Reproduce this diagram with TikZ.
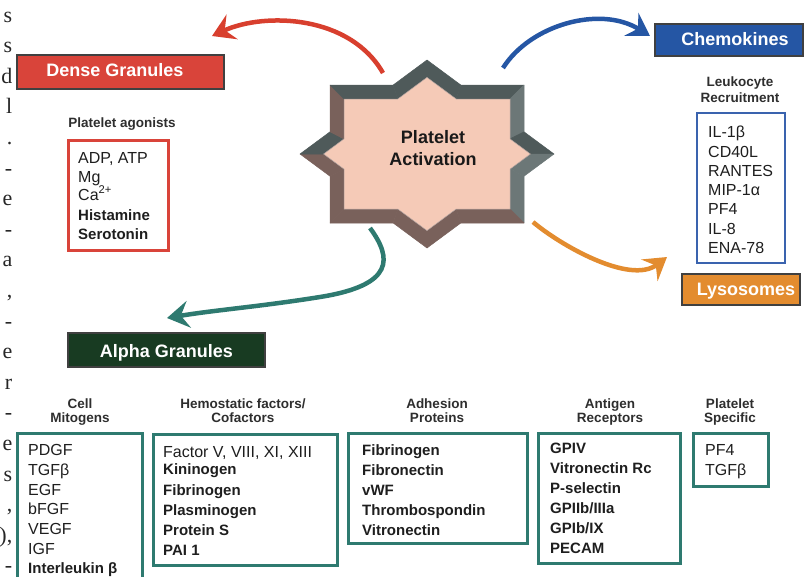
\documentclass[tikz,border=0pt]{standalone}
\usepackage{fontspec}
\setmainfont{Liberation Sans}
\newfontfamily\edgefont{Liberation Serif}
\usetikzlibrary{arrows.meta}
\definecolor{cRed}{HTML}{D83F2E}
\definecolor{cRedBox}{HTML}{D9443A}
\definecolor{cBlue}{HTML}{2556A4}
\definecolor{cListBlue}{HTML}{3A63AE}
\definecolor{cOrange}{HTML}{E38C2F}
\definecolor{cTeal}{HTML}{2E7A70}
\definecolor{cGreen}{HTML}{183B22}
\definecolor{cPink}{HTML}{F5CAB7}
\definecolor{cDark}{HTML}{4F5A5A}
\definecolor{cGray}{HTML}{6C7777}
\definecolor{cBrown}{HTML}{79615B}
\definecolor{cTxt}{HTML}{1E1E1E}
\definecolor{cHead}{HTML}{2E2E2E}
\begin{document}
\begin{tikzpicture}[x=1pt,y=-1pt,
  titlebox/.style={draw=black!75, line width=1.6pt, inner sep=0pt},
  titletext/.style={text=white, font=\fontsize{18}{20}\selectfont\bfseries, inner sep=0pt, anchor=base},
  headtxt/.style={text=cHead, font=\fontsize{13.5}{15}\selectfont\bfseries, inner sep=0pt, anchor=base},
  item/.style={text=cTxt, font=\fontsize{16}{19}\selectfont, inner sep=0pt, anchor=base west},
  bitem/.style={item, font=\fontsize{15}{19}\selectfont\bfseries},
  listbox/.style={line width=3pt, inner sep=0pt},
  arr/.style={line width=4.5pt, -{Stealth[length=22pt,width=27pt,inset=8pt]}},
  edgetxt/.style={font=\edgefont\fontsize{22}{24}\selectfont, anchor=base east, inner sep=0pt, text=black!85},
]
\useasboundingbox (0,0) rectangle (806,576);

% left-edge text fragments
\foreach \t [count=\i] in {s,s,d,l,.,-,e,-,a,{,},-,e,r,-,e,s,{,},{),},-}
  \node[edgetxt] (lf\i) at (12.5,{22+30.6*(\i-1)}) {\t};

% ---------- star ----------
\coordinate (O1) at (427,60);
\coordinate (O2) at (460.8,85);
\coordinate (O3) at (524,85);
\coordinate (O4) at (524,131.8);
\coordinate (O5) at (554,154);
\coordinate (O6) at (524,176.2);
\coordinate (O7) at (524,223);
\coordinate (O8) at (460.8,223);
\coordinate (O9) at (427,248);
\coordinate (O10) at (393.2,223);
\coordinate (O11) at (330,223);
\coordinate (O12) at (330,176.2);
\coordinate (O13) at (300,154);
\coordinate (O14) at (330,131.8);
\coordinate (O15) at (330,85);
\coordinate (O16) at (393.2,85);
\coordinate (I1) at (427,77.4);
\coordinate (I2) at (456.2,99);
\coordinate (I3) at (510,99);
\coordinate (I4) at (510,138.9);
\coordinate (I5) at (530.4,154);
\coordinate (I6) at (510,169.1);
\coordinate (I7) at (510,209);
\coordinate (I8) at (456.2,209);
\coordinate (I9) at (427,230.6);
\coordinate (I10) at (397.8,209);
\coordinate (I11) at (344,209);
\coordinate (I12) at (344,169.1);
\coordinate (I13) at (323.6,154);
\coordinate (I14) at (344,138.9);
\coordinate (I15) at (344,99);
\coordinate (I16) at (397.8,99);
\foreach \i/\j/\c in {1/2/cDark,2/3/cDark,3/4/cGray,4/5/cDark,5/6/cGray,6/7/cGray,7/8/cBrown,8/9/cBrown,9/10/cBrown,10/11/cBrown,11/12/cBrown,12/13/cBrown,13/14/cDark,14/15/cBrown,15/16/cDark,16/1/cDark}
  \fill[\c, draw=\c, line width=0.5pt, line join=round] (O\i) -- (O\j) -- (I\j) -- (I\i) -- cycle;
\fill[cPink, draw=cBrown!60, line width=0.5pt] (I1) -- (I2) -- (I3) -- (I4) -- (I5) -- (I6) -- (I7) -- (I8) -- (I9) -- (I10) -- (I11) -- (I12) -- (I13) -- (I14) -- (I15) -- (I16) -- cycle;
\node[titletext, text=black!90] (act1) at (433,143.5) {Platelet};
\node[titletext, text=black!90] (act2) at (433,165.5) {Activation};

% ---------- arrows ----------
\coordinate (rS) at (383,73);  \coordinate (rE) at (212,36);
\coordinate (bS) at (503,68);  \coordinate (bE) at (650,36);
\coordinate (oS) at (533,222); \coordinate (oE) at (667,257);
\coordinate (tS) at (370,228); \coordinate (tM) at (320,297); \coordinate (tE) at (167,318);
\draw[arr, cRed] (rS) .. controls (350,15) and (265,12) .. (rE);
\draw[arr, cBlue] (bS) .. controls (530,25) and (600,5) .. (bE);
\draw[arr, cOrange] (oS) .. controls (560,245) and (630,285) .. (oE);
\draw[arr, cTeal] (tS) .. controls (392,258) and (395,285) .. (tM) .. controls (260,306.6) and (215,310) .. (tE);

% ---------- title boxes ----------
\node[titlebox, fill=cRedBox, minimum width=207pt, minimum height=34pt] (dense) at (120.5,72) {};
\node[titletext] (denseT) at (115,76.5) {Dense Granules};
\node[titlebox, fill=cBlue, minimum width=148pt, minimum height=32pt] (chem) at (729,40) {};
\node[titletext] (chemT) at (735,45) {Chemokines};
\node[titlebox, fill=cOrange, minimum width=118pt, minimum height=31pt] (lyso) at (741,289.5) {};
\node[titletext] (lysoT) at (746,295) {Lysosomes};
\node[titlebox, fill=cGreen, minimum width=197pt, minimum height=34pt] (alpha) at (166.5,350) {};
\node[titletext] (alphaT) at (166.5,357) {Alpha Granules};

% ---------- dense granules list ----------
\node[headtxt] (agH) at (122,127) {Platelet agonists};
\node[listbox, draw=cRedBox, minimum width=100pt, minimum height=110pt] (agBox) at (118,195) {};
\node[item] (ag1) at (78,163) {ADP, ATP};
\node[item] (ag2) at (78,182) {Mg};
\node[item] (ag3) at (78,200) {Ca\textsuperscript{2+}};
\node[bitem] (ag4) at (78,220) {Histamine};
\node[bitem] (ag5) at (78,239) {Serotonin};

% ---------- chemokines list ----------
\node[headtxt] (lkH1) at (740,86) {Leukocyte};
\node[headtxt] (lkH2) at (740,102) {Recruitment};
\node[listbox, line width=2.5pt, draw=cListBlue, minimum width=88pt, minimum height=150pt] (lkBox) at (741,188) {};
\foreach \t [count=\i] in {IL-1β,CD40L,RANTES,MIP-1α,PF4,IL-8,ENA-78}
  \node[item] (lk\i) at (708,{137.7+19.3*(\i-1)}) {\t};

% ---------- alpha granules ----------
\node[headtxt] (cmH1) at (80,408) {Cell};
\node[headtxt] (cmH2) at (80,422) {Mitogens};
\node[listbox, draw=cTeal, minimum width=125pt, minimum height=152pt] (cmBox) at (79.5,509) {};
\foreach \t [count=\i] in {PDGF,TGFβ,EGF,bFGF,VEGF,IGF}
  \node[item] (cm\i) at (28,{455.7+19.7*(\i-1)}) {\t};
\node[bitem] (cm7) at (28,573.9) {Interleukin β};

\node[headtxt] (hfH1) at (243,408) {Hemostatic factors/};
\node[headtxt] (hfH2) at (243,422) {Cofactors};
\node[listbox, draw=cTeal, minimum width=184pt, minimum height=131pt] (hfBox) at (245,499.5) {};
\node[item] (hf1) at (163,457.5) {Factor V, VIII, XI, XIII};
\node[bitem] (hf2) at (163,474) {Kininogen};
\node[bitem] (hf3) at (163,495) {Fibrinogen};
\node[bitem] (hf4) at (163,515) {Plasminogen};
\node[bitem] (hf5) at (163,535) {Protein S};
\node[bitem] (hf6) at (163,555) {PAI 1};

\node[headtxt] (adH1) at (437,408) {Adhesion};
\node[headtxt] (adH2) at (437,422) {Proteins};
\node[listbox, draw=cTeal, minimum width=179pt, minimum height=110pt] (adBox) at (437.5,488) {};
\foreach \t [count=\i] in {Fibrinogen,Fibronectin,vWF,Thrombospondin,Vitronectin}
  \node[bitem] (ad\i) at (362,{455.7+20*(\i-1)}) {\t};

\node[headtxt] (anH1) at (610,408) {Antigen};
\node[headtxt] (anH2) at (610,422) {Receptors};
\node[listbox, draw=cTeal, minimum width=142pt, minimum height=130pt] (anBox) at (609,498) {};
\foreach \t [count=\i] in {GPIV,Vitronectin Rc,P-selectin,GPIIb/IIIa,GPIb/IX,PECAM}
  \node[bitem] (an\i) at (550,{453.7+20*(\i-1)}) {\t};

\node[headtxt] (psH1) at (730,408) {Platelet};
\node[headtxt] (psH2) at (730,422) {Specific};
\node[listbox, draw=cTeal, minimum width=75pt, minimum height=53pt] (psBox) at (730.5,459.5) {};
\node[item] (ps1) at (705,455.7) {PF4};
\node[item] (ps2) at (705,475.2) {TGFβ};
\end{tikzpicture}
\end{document}
